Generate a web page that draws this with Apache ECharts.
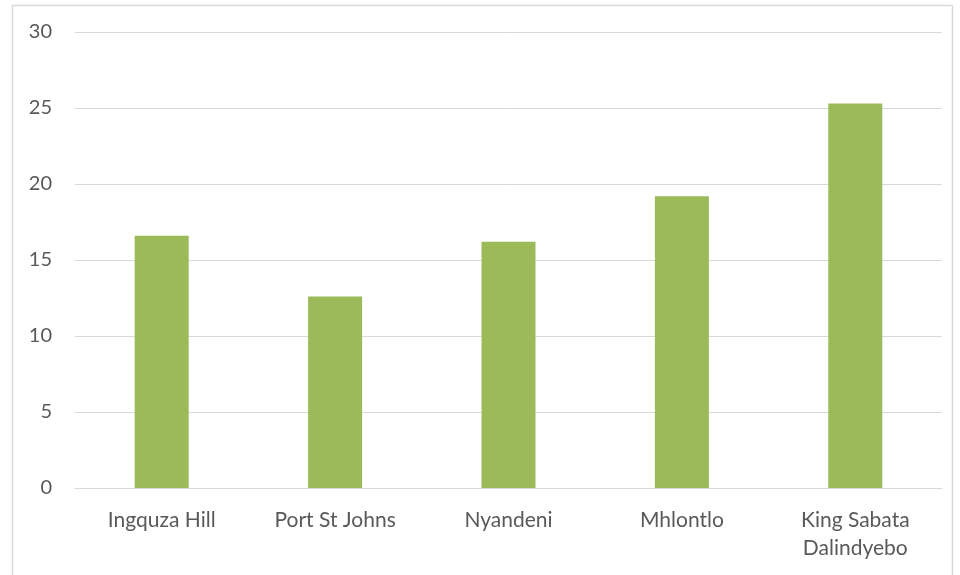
<!DOCTYPE html>
<html>
<head>
<meta charset="utf-8">
<script src="https://cdn.jsdelivr.net/npm/echarts@6/dist/echarts.min.js"></script>
<style>html,body{margin:0;padding:0;background:#fff;}#c{width:960px;height:575px;}</style>
</head>
<body>
<div id="c"></div>
<script>
const categories = ['Ingquza Hill', 'Port St Johns', 'Nyandeni', 'Mhlontlo', 'King Sabata\nDalindyebo'];
const values = [16.6, 12.6, 16.2, 19.2, 25.3];
const yTicks = [0, 5, 10, 15, 20, 25, 30];

const chart = echarts.init(document.getElementById('c'), null, {renderer: 'canvas'});
chart.setOption({
  animation: false,
  backgroundColor: '#ffffff',
  graphic: [{
    type: 'rect', left: 10, top: 3, silent: true,
    shape: {width: 940, height: 590},
    style: {fill: 'none', stroke: '#d9d9d9', lineWidth: 1.5}
  }],
  grid: {left: 75, right: 18, top: 32, bottom: 87, containLabel: false},
  xAxis: {
    type: 'category',
    data: categories,
    axisLine: {show: true, lineStyle: {color: '#d9d9d9', width: 1}},
    axisTick: {show: false},
    axisLabel: {color: '#595959', fontSize: 21, fontFamily: 'Lato, "Open Sans", sans-serif', margin: 18, lineHeight: 28}
  },
  yAxis: {
    type: 'value',
    min: yTicks[0], max: yTicks[yTicks.length - 1], interval: 5,
    axisLine: {show: false},
    axisTick: {show: false},
    splitLine: {lineStyle: {color: '#d9d9d9', width: 1}},
    axisLabel: {color: '#595959', fontSize: 20, fontFamily: 'Lato, "Open Sans", sans-serif', margin: 23}
  },
  series: [{
    type: 'bar',
    data: values,
    barWidth: 54,
    itemStyle: {color: '#9bbb59'}
  }]
});
</script>
</body>
</html>
